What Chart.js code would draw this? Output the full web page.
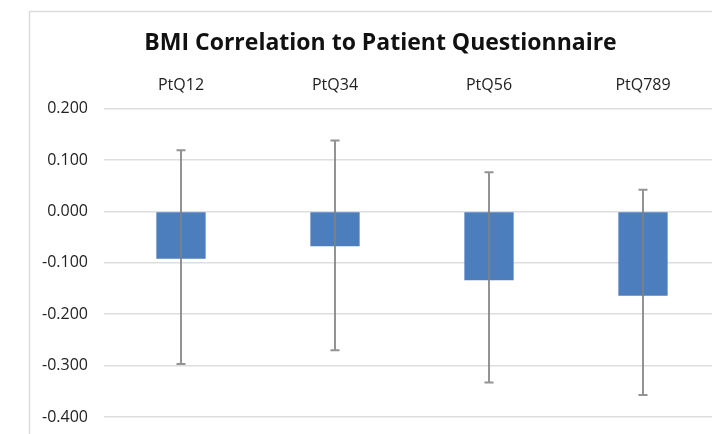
<!DOCTYPE html>
<html>
<head>
<meta charset="utf-8">
<script src="https://cdn.jsdelivr.net/npm/chart.js@4/dist/chart.umd.min.js"></script>
<style>
  html, body { margin: 0; padding: 0; background: #ffffff; overflow: hidden; width: 712px; height: 434px; }
  canvas { display: block; }
</style>
</head>
<body>
<canvas id="c" width="760" height="434"></canvas>
<script>
const categories = ['PtQ12', 'PtQ34', 'PtQ56', 'PtQ789'];
const correlation = [-0.092, -0.068, -0.134, -0.164];
const errorHigh = [0.119, 0.138, 0.076, 0.042];
const errorLow = [-0.297, -0.270, -0.333, -0.357];
const yTicks = [0.2, 0.1, 0.0, -0.1, -0.2, -0.3, -0.4];
const chartTitle = 'BMI Correlation to Patient Questionnaire';

const frame = {
  id: 'frame',
  beforeDraw(chart) {
    const ctx = chart.ctx;
    ctx.save();
    ctx.strokeStyle = '#dcdcdc';
    ctx.lineWidth = 1.5;
    ctx.strokeRect(29.5, 11.5, chart.width + 20, chart.height + 20);
    ctx.restore();
  }
};

const errorBars = {
  id: 'errorBars',
  afterDatasetsDraw(chart) {
    const ctx = chart.ctx;
    const meta = chart.getDatasetMeta(0);
    const y = chart.scales.y;
    ctx.save();
    ctx.strokeStyle = 'rgba(128,128,128,0.85)';
    ctx.lineWidth = 2;
    meta.data.forEach((bar, i) => {
      const x = bar.x;
      const yTop = y.getPixelForValue(errorHigh[i]);
      const yBot = y.getPixelForValue(errorLow[i]);
      ctx.beginPath();
      ctx.moveTo(x, yTop);
      ctx.lineTo(x, yBot);
      ctx.moveTo(x - 4.5, yTop);
      ctx.lineTo(x + 4.5, yTop);
      ctx.moveTo(x - 4.5, yBot);
      ctx.lineTo(x + 4.5, yBot);
      ctx.stroke();
    });
    ctx.restore();
  }
};

new Chart(document.getElementById('c'), {
  type: 'bar',
  data: {
    labels: categories,
    datasets: [{
      data: correlation,
      backgroundColor: '#4c7dbd',
      borderWidth: 0,
      categoryPercentage: 1,
      barPercentage: 0.32
    }]
  },
  options: {
    responsive: false,
    animation: false,
    devicePixelRatio: 1,
    layout: { padding: { left: 41, right: 40, top: 0, bottom: 17 } },
    plugins: {
      legend: { display: false },
      tooltip: { enabled: false },
      title: {
        display: true,
        text: chartTitle,
        color: '#111111',
        font: { family: 'Open Sans', size: 23, weight: 'bold' },
        padding: { top: 30, bottom: 5 }
      }
    },
    scales: {
      x: {
        position: 'top',
        offset: true,
        grid: { display: false, drawTicks: false },
        border: { display: false },
        ticks: { color: '#222222', font: { family: 'Open Sans', size: 16 }, padding: 14 },
        afterFit(scale) { scale.height = 46; }
      },
      y: {
        min: -0.4,
        max: 0.2,
        afterBuildTicks(scale) { scale.ticks = yTicks.map(v => ({ value: v })); },
        grid: { color: '#dedede', lineWidth: 1.5, drawTicks: false },
        border: { display: false },
        ticks: {
          color: '#222222',
          font: { family: 'Open Sans', size: 16 },
          padding: 16,
          callback: v => Number(v).toFixed(3)
        },
        afterFit(scale) {
          scale.width = 63;
          scale.paddingTop = 0;
          scale.paddingBottom = 0;
        }
      }
    }
  },
  plugins: [frame, errorBars]
});
</script>
</body>
</html>
